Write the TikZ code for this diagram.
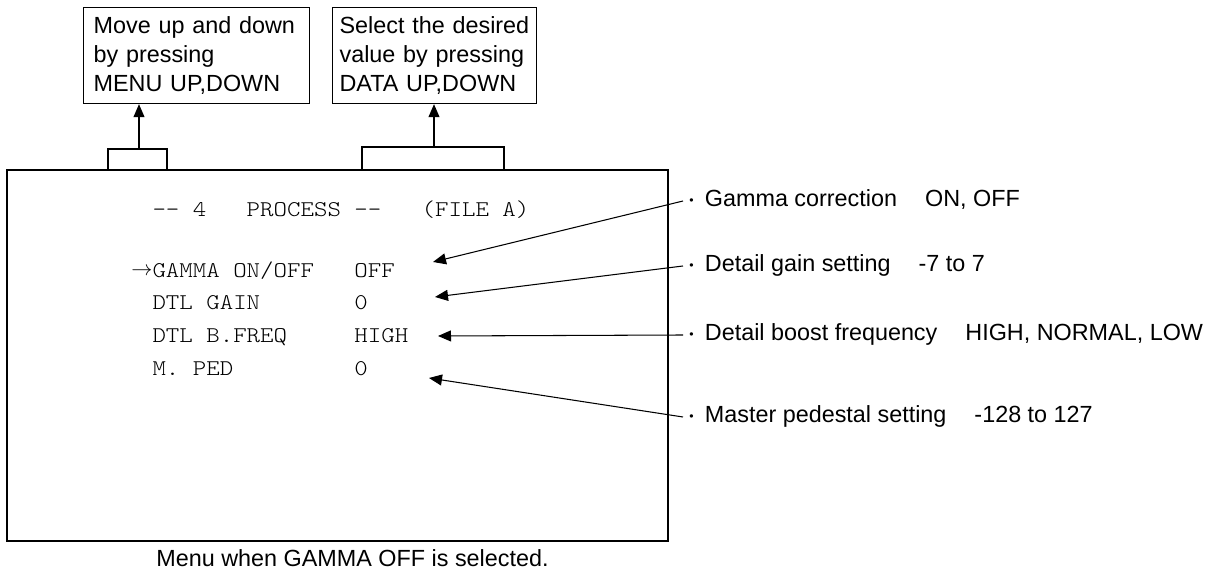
\documentclass[tikz,border=0pt]{standalone}
\usepackage{fontspec}
\setmainfont{Liberation Sans}
\newfontfamily\screenfont[FakeStretch=1.14]{lmmonolt10-regular.otf}
\usetikzlibrary{arrows.meta}

\newcommand{\itemdot}{\hspace{0.25em}\raisebox{0.12em}{\fontsize{7}{7}\selectfont\textbullet}\hspace{0.48em}}
\newcommand{\valgap}{\hspace{1.2em}}

\tikzset{
  helpbox/.style={draw, line width=0.7pt, anchor=north west, inner xsep=0.2cm,
    minimum height=1.92cm, align=left, font=\fontsize{13.3}{16.5}\selectfont},
  screentext/.style={anchor=base west, inner sep=0pt,
    font=\screenfont\fontsize{12.8}{15}\selectfont\frenchspacing},
  itemtext/.style={anchor=west, inner sep=0pt, text height=0.24cm, text depth=0pt,
    font=\fontsize{13.3}{16}\selectfont},
  pointer/.style={-{Triangle[length=0.26cm,width=0.22cm]}, line width=0.6pt},
}

\begin{document}
\begin{tikzpicture}[x=0.02cm, y=-0.02cm, line width=0.6pt]
  \useasboundingbox (0,0) rectangle (1216,573);
  % help boxes
  \node[helpbox, text width=4.12cm] (menuhelp) at (83,7) {Move up and down\\by pressing\\MENU UP,DOWN};
  \node[helpbox, inner xsep=0.14cm, text width=3.8cm] (datahelp) at (332,7) {Select the desired\\value by pressing\\DATA UP,DOWN};
  % screen with its two tabs
  \draw[line width=0.7pt] (7,170) rectangle (668,541);
  \draw (108,170) |- (167,149) -- (167,170);
  \draw (362,170) |- (504,147) -- (504,170);
  \coordinate (menutab) at (139,149);
  \coordinate (datatab) at (434,147);
  \draw[pointer] (menutab) -- (menuhelp.south -| menutab);
  \draw[pointer] (datatab) -- (datahelp.south -| datatab);
  % menu lines
  \node[screentext] (title) at (152,217) {-{}-~4~~~PROCESS~-{}-~~~(FILE~A)};
  \node[screentext] (gammarow) at (152,278) {\llap{\raisebox{1.5pt}{$\rightarrow$}}GAMMA~ON/OFF~~~OFF};
  \node[screentext] (gainrow) at (152,310) {DTL~GAIN~~~~~~~0};
  \node[screentext] (freqrow) at (152,343) {DTL~B.FREQ~~~~~HIGH};
  \node[screentext] (pedrow) at (152,376) {M.~PED~~~~~~~~~0};
  % item notes
  \node[itemtext] (gammaitem) at (683,201) {\itemdot Gamma correction\valgap ON, OFF};
  \node[itemtext] (gainitem) at (683,266) {\itemdot Detail gain setting\valgap -7 to 7};
  \node[itemtext] (freqitem) at (683,335) {\itemdot Detail boost frequency\valgap HIGH, NORMAL, LOW};
  \node[itemtext] (peditem) at (683,417) {\itemdot Master pedestal setting\valgap -128 to 127};
  \coordinate (gammatip) at (433,262);
  \coordinate (gaintip) at (435,297);
  \coordinate (freqtip) at (438,336);
  \coordinate (pedtip) at (429,378);
  \draw[pointer] (gammaitem.west) -- (gammatip);
  \draw[pointer] (gainitem.west) -- (gaintip);
  \draw[pointer] (freqitem.west) -- (freqtip);
  \draw[pointer] (peditem.west) -- (pedtip);
  % caption
  \node[anchor=base west, font=\fontsize{13.3}{16}\selectfont] (caption) at (150,566) {Menu when GAMMA OFF is selected.};
\end{tikzpicture}
\end{document}
